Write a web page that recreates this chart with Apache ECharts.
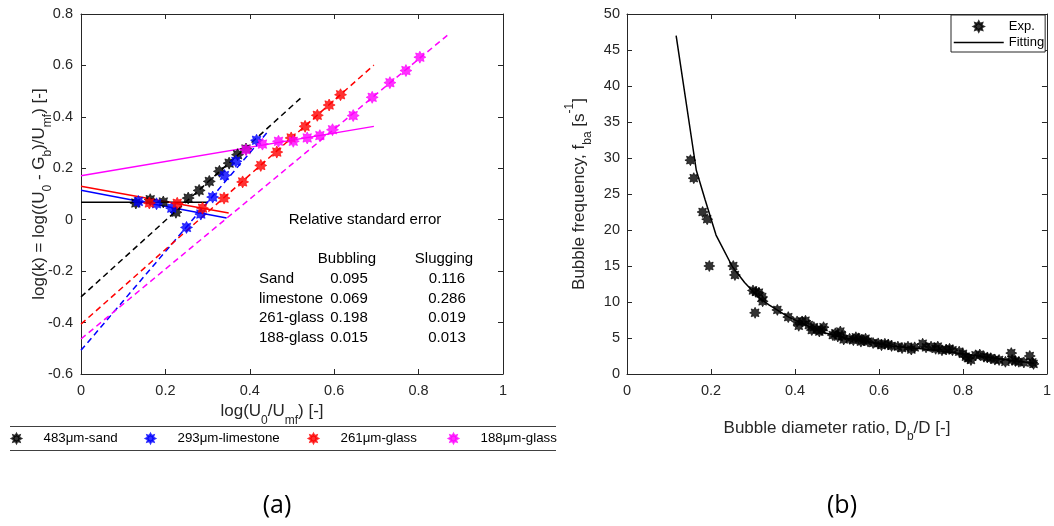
<!DOCTYPE html>
<html><head><meta charset="utf-8">
<script src="https://cdn.jsdelivr.net/npm/echarts@6/dist/echarts.min.js"></script>
<style>html,body{margin:0;padding:0;background:#fff}#c{width:1054px;height:526px}</style>
</head><body><div id="c"></div>
<script>
// ---------- Panel (a) data ----------
const sandX = [0.130,0.164,0.195,0.225,0.254,0.280,0.304,0.328,0.351,0.371,0.391];
const sandY = [0.065,0.078,0.069,0.029,0.084,0.114,0.149,0.188,0.220,0.253,0.275];
const limeX = [0.136,0.179,0.215,0.250,0.284,0.312,0.340,0.367,0.416];
const limeY = [0.071,0.062,0.045,-0.030,0.022,0.088,0.172,0.227,0.309];
const g261X = [0.162,0.228,0.288,0.339,0.383,0.426,0.464,0.498,0.531,0.560,0.588,0.615];
const g261Y = [0.065,0.064,0.045,0.084,0.147,0.211,0.263,0.318,0.363,0.406,0.446,0.486];
const g188X = [0.391,0.430,0.468,0.503,0.536,0.566,0.596,0.645,0.690,0.732,0.770,0.803];
const g188Y = [0.272,0.294,0.305,0.305,0.318,0.327,0.350,0.405,0.476,0.533,0.580,0.632];
// fitted line end points [x0, y0, x1, y1]
const sandBubFit = [0, 0.068, 0.30, 0.068];
const sandSlugFit = [0, -0.300, 0.52, 0.472];
const limeBubFit = [0, 0.115, 0.345, 0.007];
const limeSlugFit = [0, -0.508, 0.44, 0.337];
const g261BubFit = [0, 0.130, 0.35, 0.026];
const g261SlugFit = [0, -0.406, 0.694, 0.601];
const g188BubFit = [0, 0.171, 0.694, 0.363];
const g188SlugFit = [0, -0.464, 0.868, 0.717];
const seriesNamesA = ['483μm-sand','293μm-limestone','261μm-glass','188μm-glass'];
// relative standard error table
const tableMaterials = ['Sand','limestone','261-glass','188-glass'];
const bubblingErr = ['0.095','0.069','0.198','0.015'];
const sluggingErr = ['0.116','0.286','0.019','0.013'];
const ticksA_X = [0,0.2,0.4,0.6,0.8,1];
const ticksA_Y = [-0.6,-0.4,-0.2,0,0.2,0.4,0.6,0.8];

// ---------- Panel (b) data ----------
const expX = [0.151,0.159,0.180,0.191,0.196,0.253,0.257,0.300,0.307,0.314,0.322,0.323,0.305,0.358,0.384,
  0.405,0.409,0.417,0.425,0.433,0.440,0.445,0.452,0.458,0.464,0.468,0.490,0.496,0.502,0.508,0.512,0.516,
  0.530,0.539,0.545,0.551,0.557,0.563,0.568,0.574,0.586,0.598,0.606,0.614,0.622,0.630,0.645,0.655,0.669,
  0.677,0.685,0.704,0.712,0.724,0.735,0.740,0.750,0.760,0.768,0.775,0.791,0.800,0.807,0.812,0.819,0.830,
  0.840,0.850,0.858,0.866,0.876,0.886,0.901,0.915,0.917,0.925,0.933,0.945,0.959,0.965,0.968];
const expY = [29.7,27.2,22.5,21.5,15.0,15.0,13.75,11.6,11.4,11.3,10.7,10.1,8.5,8.9,7.9,
  7.3,6.7,7.3,7.4,6.8,6.1,6.5,6.2,5.9,6.1,6.5,5.4,5.65,5.2,5.9,5.3,4.8,
  4.9,4.7,5.1,4.95,4.5,4.7,4.9,4.5,4.3,4.25,4.0,4.2,4.1,3.9,3.8,3.6,3.8,
  3.4,3.7,4.2,3.7,3.8,3.5,3.8,3.3,3.4,3.5,3.3,3.1,2.8,2.4,2.2,1.95,2.6,
  2.7,2.4,2.3,2.2,2.0,1.95,1.7,2.9,1.95,1.8,1.7,1.6,2.5,1.6,1.4];
const fitX = [0.117,0.165,0.186,0.212,0.251,0.280,0.314,0.338,0.385,0.430,0.472,0.520,0.570,0.630,0.700,0.787,0.850,0.900,0.969];
const fitY = [47.0,28.3,24.2,19.3,14.9,12.7,10.6,9.6,7.9,6.7,5.7,5.0,4.5,3.9,3.5,2.9,2.4,2.0,1.5];
const ticksB_X = [0,0.2,0.4,0.6,0.8,1];
const ticksB_Y = [0,5,10,15,20,25,30,35,40,45,50];

// ---------- helpers ----------
const FONT = '"Liberation Sans", Arial, Helvetica, sans-serif';
const AX = '#262626';
function zip(xs, ys){ return xs.map((x,i)=>[x, ys[i]]); }
function seg(f){ return [[f[0],f[1]],[f[2],f[3]]]; }
function starSymbol(n, inner){
  let d='';
  for (let i=0;i<2*n;i++){
    const r = (i%2) ? inner : 1;
    const a = Math.PI*i/n - Math.PI/2;
    d += (i ? ' L' : 'M') + (r*Math.cos(a)*10).toFixed(3) + ' ' + (r*Math.sin(a)*10).toFixed(3);
  }
  return 'path://' + d + ' Z';
}
const STAR = starSymbol(8, 0.6);
const fmt1 = v => String(Math.round(v*10)/10);
const sub = {fontSize: 12, fontFamily: FONT, color: '#262626', padding: [18,0,0,0]};
const sup = {fontSize: 12, fontFamily: FONT, color: '#262626', padding: [0,0,18,0]};
const nrm = {fontSize: 17, fontFamily: FONT, color: '#262626'};
const TICK = 14.5;

function axis(gridIndex, position, ticks, showLabel, extra){
  const a = {
    type: 'value', gridIndex, position,
    min: ticks[0], max: ticks[ticks.length-1], interval: ticks[1]-ticks[0],
    axisLine: {show: true, onZero: false, lineStyle: {color: AX, width: 1}},
    axisTick: {show: true, inside: true, length: 5, lineStyle: {color: AX, width: 1}},
    splitLine: {show: false},
    axisLabel: {show: showLabel, color: AX, fontSize: TICK, fontFamily: FONT, formatter: fmt1}
  };
  return Object.assign(a, extra || {});
}

const xAxes = [
  axis(0, 'bottom', ticksA_X, true, {
    name: '{n|log(U}{s|0}{n|/U}{s|mf}{n|) [-]}', nameLocation: 'middle', nameGap: 21,
    nameTextStyle: {rich: {n: nrm, s: sub}, padding: [0,40,0,0]},
    axisLabel: {show: true, color: AX, fontSize: TICK, fontFamily: FONT, margin: 9, formatter: fmt1}
  }),
  axis(0, 'top', ticksA_X, false),
  axis(1, 'bottom', ticksB_X, true, {
    name: '{n|Bubble diameter ratio, D}{s|b}{n|/D [-]}', nameLocation: 'middle', nameGap: 39,
    nameTextStyle: {rich: {n: nrm, s: sub}},
    axisLabel: {show: true, color: AX, fontSize: TICK, fontFamily: FONT, margin: 9, formatter: fmt1}
  }),
  axis(1, 'top', ticksB_X, false)
];
const yAxes = [
  axis(0, 'left', ticksA_Y, true, {
    name: '{n|log(k) = log((U}{s|0}{n| - G}{s|b}{n|)/U}{s|mf}{n|) [-]}', nameLocation: 'middle', nameGap: 27, nameRotate: 90,
    nameMoveOverlap: false,
    nameTextStyle: {rich: {n: nrm, s: sub}},
    axisLabel: {show: true, color: AX, fontSize: TICK, fontFamily: FONT, margin: 8, formatter: fmt1}
  }),
  axis(0, 'right', ticksA_Y, false),
  axis(1, 'left', ticksB_Y, true, {
    name: '{n|Bubble frequency, f}{s|ba}{n| [s}{p|-1}{n|]}', nameLocation: 'middle', nameGap: 33, nameRotate: 90,
    nameTextStyle: {rich: {n: nrm, s: sub, p: sup}},
    axisLabel: {show: true, color: AX, fontSize: TICK, fontFamily: FONT, margin: 7, formatter: v => String(v)}
  }),
  axis(1, 'right', ticksB_Y, false)
];

const colorsA = ['#000000','#0000ff','#ff0000','#ff00ff'];
const ptsA = [zip(sandX,sandY), zip(limeX,limeY), zip(g261X,g261Y), zip(g188X,g188Y)];
const bubFits = [sandBubFit, limeBubFit, g261BubFit, g188BubFit];
const slugFits = [sandSlugFit, limeSlugFit, g261SlugFit, g188SlugFit];

const series = [];
for (let i=0;i<4;i++){
  series.push({type:'line', name: seriesNamesA[i]+' bubbling fit', xAxisIndex:0, yAxisIndex:0,
    data: seg(bubFits[i]), symbol:'none', silent:true, z:2,
    lineStyle:{color: colorsA[i], width: 1.5, type:'solid'}});
  series.push({type:'line', name: seriesNamesA[i]+' slugging fit', xAxisIndex:0, yAxisIndex:0,
    data: seg(slugFits[i]), symbol:'none', silent:true, z:2,
    lineStyle:{color: colorsA[i], width: 1.5, type:[6,4]}});
}
for (let i=0;i<4;i++){
  series.push({type:'scatter', name: seriesNamesA[i], xAxisIndex:0, yAxisIndex:0,
    data: ptsA[i], symbol: STAR, symbolSize: 12, z:3,
    itemStyle:{color: colorsA[i], borderColor: colorsA[i], borderWidth: 0.8}});
}
series.push({type:'scatter', name:'Exp.', xAxisIndex:2, yAxisIndex:2,
  data: zip(expX, expY), symbol: STAR, symbolSize: 11, itemStyle:{color:'#000', borderColor:'#000', borderWidth: 0.8}, z:3});
series.push({type:'line', name:'Fitting', xAxisIndex:2, yAxisIndex:2,
  data: zip(fitX, fitY), symbol:'none', showSymbol:false, lineStyle:{color:'#000', width:1.5}, itemStyle:{color:'#000'}, z:2});

const legendCentersA = [15, 149, 312, 452];
const legends = seriesNamesA.map((n,i)=>({
  data: [n], left: legendCentersA[i]-4, top: 432, padding: 0,
  itemWidth: 24, itemHeight: 9, selectedMode: false,
  textStyle: {color:'#000', fontSize: 13.3, fontFamily: FONT, padding: [0,0,0,10]}
}));
legends.push({
  data: [{name:'Exp.'}, {name:'Fitting', itemStyle:{opacity:0}, lineStyle:{color:'#000', width:1.5, opacity:1}}],
  orient: 'vertical', left: 951, top: 15, padding: [5,1,3,2],
  itemGap: 3, itemWidth: 50, itemHeight: 10, selectedMode: false,
  backgroundColor: '#fff', borderColor: AX, borderWidth: 1, borderRadius: 0,
  textStyle: {color:'#000', fontSize: 13, fontFamily: FONT}
});

// table of relative standard errors (panel a annotation)
const tableFont = {fontSize: 15, fontFamily: FONT, fill: '#000'};
const graphics = [
  {type:'text', style: Object.assign({text:'Relative standard error', x: 365, y: 220, align:'center', verticalAlign:'middle'}, tableFont)},
  {type:'text', style: Object.assign({text:'Bubbling', x: 347, y: 259, align:'center', verticalAlign:'middle'}, tableFont)},
  {type:'text', style: Object.assign({text:'Slugging', x: 444, y: 259, align:'center', verticalAlign:'middle'}, tableFont)},
  {type:'line', shape:{x1:10, y1:426.5, x2:556, y2:426.5}, style:{stroke:'#404040', lineWidth:1}},
  {type:'line', shape:{x1:10, y1:450.5, x2:556, y2:450.5}, style:{stroke:'#404040', lineWidth:1}},
  {type:'text', style:{text:'(a)', x: 277, y: 506, align:'center', verticalAlign:'middle', fontSize: 25, fontFamily:'"Open Sans", "Noto Sans", sans-serif', fill:'#000'}},
  {type:'text', style:{text:'(b)', x: 842, y: 506, align:'center', verticalAlign:'middle', fontSize: 25, fontFamily:'"Open Sans", "Noto Sans", sans-serif', fill:'#000'}}
];
const rowY = [279, 298.5, 318, 337.5];
tableMaterials.forEach((m,i)=>{
  graphics.push({type:'text', style: Object.assign({text: m, x: 259, y: rowY[i], align:'left', verticalAlign:'middle'}, tableFont)});
  graphics.push({type:'text', style: Object.assign({text: bubblingErr[i], x: 349, y: rowY[i], align:'center', verticalAlign:'middle'}, tableFont)});
  graphics.push({type:'text', style: Object.assign({text: sluggingErr[i], x: 447, y: rowY[i], align:'center', verticalAlign:'middle'}, tableFont)});
});

const chart = echarts.init(document.getElementById('c'), null, {renderer:'canvas'});
chart.setOption({
  animation: false,
  backgroundColor: '#fff',
  grid: [
    {left: 81, top: 14, width: 422, height: 360},
    {left: 627, top: 14, width: 423, height: 360}
  ],
  xAxis: xAxes,
  yAxis: yAxes,
  legend: legends,
  series: series,
  graphic: graphics
});
</script>
</body></html>
